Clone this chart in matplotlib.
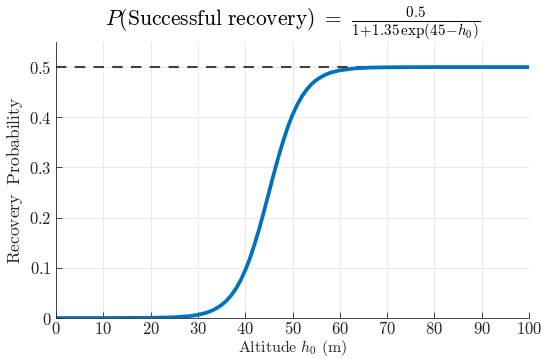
import matplotlib
matplotlib.use("Agg")
import matplotlib.pyplot as plt
from matplotlib.ticker import FuncFormatter

plt.rcParams['mathtext.fontset'] = 'cm'
plt.rcParams['font.family'] = 'serif'

# values
altitude = [0, 10, 20, 25, 28, 29, 30, 31, 32, 33, 34, 35, 36, 37, 38, 39, 40,
            41, 42, 43, 44, 45, 46, 47, 48, 49, 50, 51, 52, 53, 54, 55, 56,
            57, 58, 60, 63, 66, 70, 80, 100]
prob = [0.0, 0.0, 0.0004, 0.0015, 0.0036, 0.0048, 0.0064, 0.0085, 0.0113,
        0.0149, 0.0198, 0.026, 0.0342, 0.0447, 0.058, 0.0746, 0.095, 0.119,
        0.148, 0.179, 0.214, 0.25, 0.286, 0.3205, 0.352, 0.3807, 0.405,
        0.4253, 0.442, 0.4553, 0.466, 0.474, 0.480, 0.4851, 0.4888, 0.4936,
        0.4973, 0.4989, 0.4996, 0.5, 0.5]
asymptote_x = [0, 100]
asymptote_y = [0.5, 0.5]
xticks = list(range(0, 101, 10))
yticks = [0, 0.1, 0.2, 0.3, 0.4, 0.5]

fig = plt.figure(figsize=(5.41, 3.59), dpi=100)
ax = fig.add_axes([0.1035, 0.1142, 0.8745, 0.7688])

ax.plot(asymptote_x, asymptote_y, '--', color='#404040', lw=1.5, dashes=(5, 4))
ax.plot(altitude, prob, color='#0072BD', lw=2.7, solid_capstyle='butt')

ax.set_xlim(0, 100)
ax.set_ylim(0, 0.55)
ax.set_xticks(xticks)
ax.set_yticks(yticks)
fmt = FuncFormatter(lambda v, p: '$%g$' % v)
ax.xaxis.set_major_formatter(fmt)
ax.yaxis.set_major_formatter(fmt)
ax.tick_params(direction='in', length=4, width=0.6, colors='#262626',
               labelsize=12, pad=3)
ax.tick_params(axis='x', pad=2)
ax.grid(True, color='#e6e6e6', lw=0.6)
ax.set_axisbelow(True)
for s in ['top', 'right']:
    ax.spines[s].set_visible(False)
for s in ['left', 'bottom']:
    ax.spines[s].set_color('#262626')
    ax.spines[s].set_linewidth(0.6)

ax.set_xlabel(r'$\mathrm{Altitude}\ h_0\ \mathrm{(m)}$', fontsize=11.5,
              labelpad=0, color='#262626')
ax.set_ylabel(r'$\mathrm{Recovery\ \ Probability}$', fontsize=12.5,
              labelpad=3, color='#262626')
ax.set_title(r'$P(\mathrm{Successful\ recovery})\ =\ '
             r'\frac{0.5}{1\!+\!1.35\,\exp(45\!-\!h_0)}$',
             fontsize=15.5, pad=8)

fig.savefig('out.png', dpi=100)
